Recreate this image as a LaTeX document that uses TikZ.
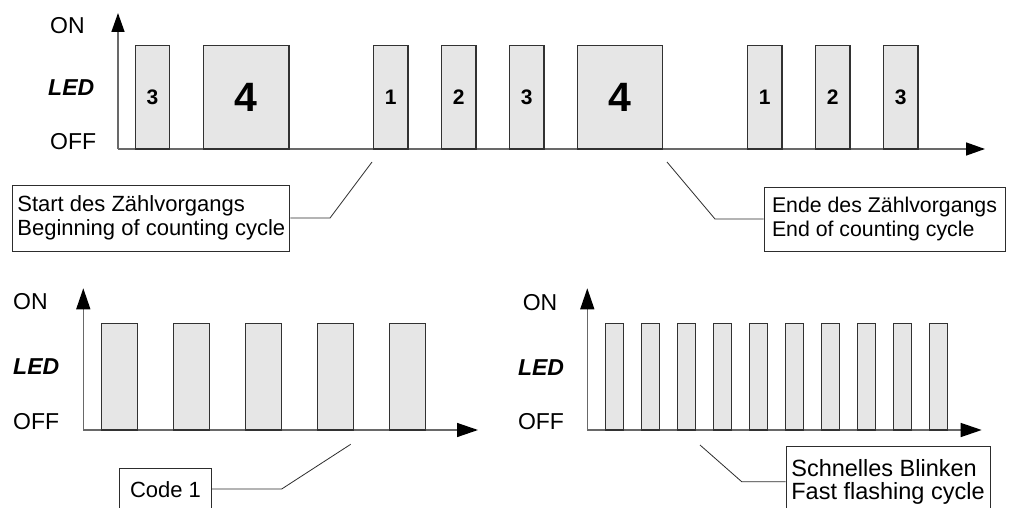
\documentclass[tikz,border=0pt]{standalone}
\usepackage{fontspec}
\setmainfont{Liberation Sans}
\usetikzlibrary{arrows.meta}
\definecolor{pulsefill}{RGB}{230,230,230}
\definecolor{pulseline}{RGB}{50,50,50}
\definecolor{axisgray}{RGB}{105,105,105}
\definecolor{boxline}{RGB}{45,45,45}
\begin{document}
\begin{tikzpicture}[x=1pt,y=-1pt,
  pulse/.style={draw=pulseline, fill=pulsefill, line width=1.1pt, inner sep=0pt,
    font=\bfseries\fontsize{21}{21}\selectfont},
  widepulse/.style={pulse, font=\bfseries\fontsize{41}{41}\selectfont},
  axisline/.style={draw=axisgray, line width=1.4pt},
  tipA/.style={-{Triangle[length=19pt,width=13pt,color=black]}},
  tipB/.style={-{Triangle[length=21pt,width=14pt,color=black]}},
  lab/.style={inner sep=0pt, font=\fontsize{23}{24}\selectfont},
  ledlab/.style={lab, font=\fontsize{23}{24}\selectfont\bfseries\itshape},
  callout/.style={draw=boxline, line width=0.9pt, align=left, inner sep=0pt,
    font=\fontsize{22}{24}\selectfont},
  leader/.style={draw=boxline, line width=0.8pt}
]
\clip (0,0) rectangle (1010,508);
\fill[white] (0,0) rectangle (1010,508);

% ---------- top diagram ----------
\coordinate (o1) at (118,149);
\coordinate (y1) at (118,13);
\coordinate (x1) at (985,149);
\draw[axisline, tipA] (o1) -- (y1);
\draw[axisline, tipA] (o1) -- (x1);

\foreach \n/\x/\t in {a/152.5/3, c/390.7/1, d/458.7/2, e/526.7/3, g/764.7/1, h/832.7/2, i/900.7/3}
  \node[pulse, minimum width=34.5pt, minimum height=103.5pt] (t\n) at (\x,97.25) {\t};
\node[widepulse, minimum width=85.3pt, minimum height=103.5pt] (tb) at (246.3,97.25) {4};
\node[widepulse, minimum width=85pt, minimum height=103.5pt] (tf) at (620.2,97.25) {4};

\node[lab, anchor=west] (on1) at (50,25.5) {ON};
\node[ledlab, anchor=west] (led1) at (48,88) {LED};
\node[lab, anchor=west] (off1) at (50,141.5) {OFF};

\node[callout, minimum width=277pt, minimum height=66pt] (start) at (151.3,218)
  {Start des Zählvorgangs\\Beginning of counting cycle};
\coordinate (s1) at (330,218);
\coordinate (s2) at (372,162);
\draw[leader] (start.east) -- (s1) -- (s2);

\node[callout, minimum width=241pt, minimum height=64pt,
  font=\fontsize{21.3}{24}\selectfont] (ende) at (884.5,219)
  {Ende des Zählvorgangs\\End of counting cycle};
\coordinate (e1) at (715,219);
\coordinate (e2) at (667,162);
\draw[leader] (ende.west) -- (e1) -- (e2);

% ---------- bottom left ----------
\coordinate (o2) at (83.3,430);
\coordinate (y2) at (83.3,288.3);
\coordinate (x2) at (478,430);
\draw[axisline, tipB] (o2) -- (y2);
\draw[axisline, tipB] (o2) -- (x2);

\foreach \i in {0,...,4}
  \node[pulse, minimum width=36pt, minimum height=106.7pt] (bl\i) at (119.7+72*\i,376.65) {};

\node[lab, anchor=west] (on2) at (13,302) {ON};
\node[ledlab, anchor=west] (led2) at (13,366.7) {LED};
\node[lab, anchor=west] (off2) at (13,421.7) {OFF};

\node[callout, minimum width=92.4pt, minimum height=41.4pt] (code) at (165.5,489.5)
  {Code 1};
\coordinate (c1) at (281.7,489);
\coordinate (c2) at (350.7,444.3);
\draw[leader] (code.east |- c1) -- (c1) -- (c2);

% ---------- bottom right ----------
\coordinate (o3) at (587.3,430);
\coordinate (y3) at (587.3,288.3);
\coordinate (x3) at (981.7,430);
\draw[axisline, tipB] (o3) -- (y3);
\draw[axisline, tipB] (o3) -- (x3);

\foreach \i in {0,...,9}
  \node[pulse, minimum width=18pt, minimum height=106.7pt] (br\i) at (614.7+35.93*\i,376.65) {};

\node[lab] (on3) at (540,303) {ON};
\node[ledlab] (led3) at (541,368) {LED};
\node[lab] (off3) at (541,421.7) {OFF};

\node[callout, minimum width=204pt, minimum height=71pt,
  font=\fontsize{23.5}{23}\selectfont] (schnell) at (888,482.2)
  {Schnelles Blinken\\Fast flashing cycle};
\coordinate (f1) at (741.7,481.7);
\coordinate (f2) at (700,445);
\draw[leader] (schnell.west |- f1) -- (f1) -- (f2);
\end{tikzpicture}
\end{document}
